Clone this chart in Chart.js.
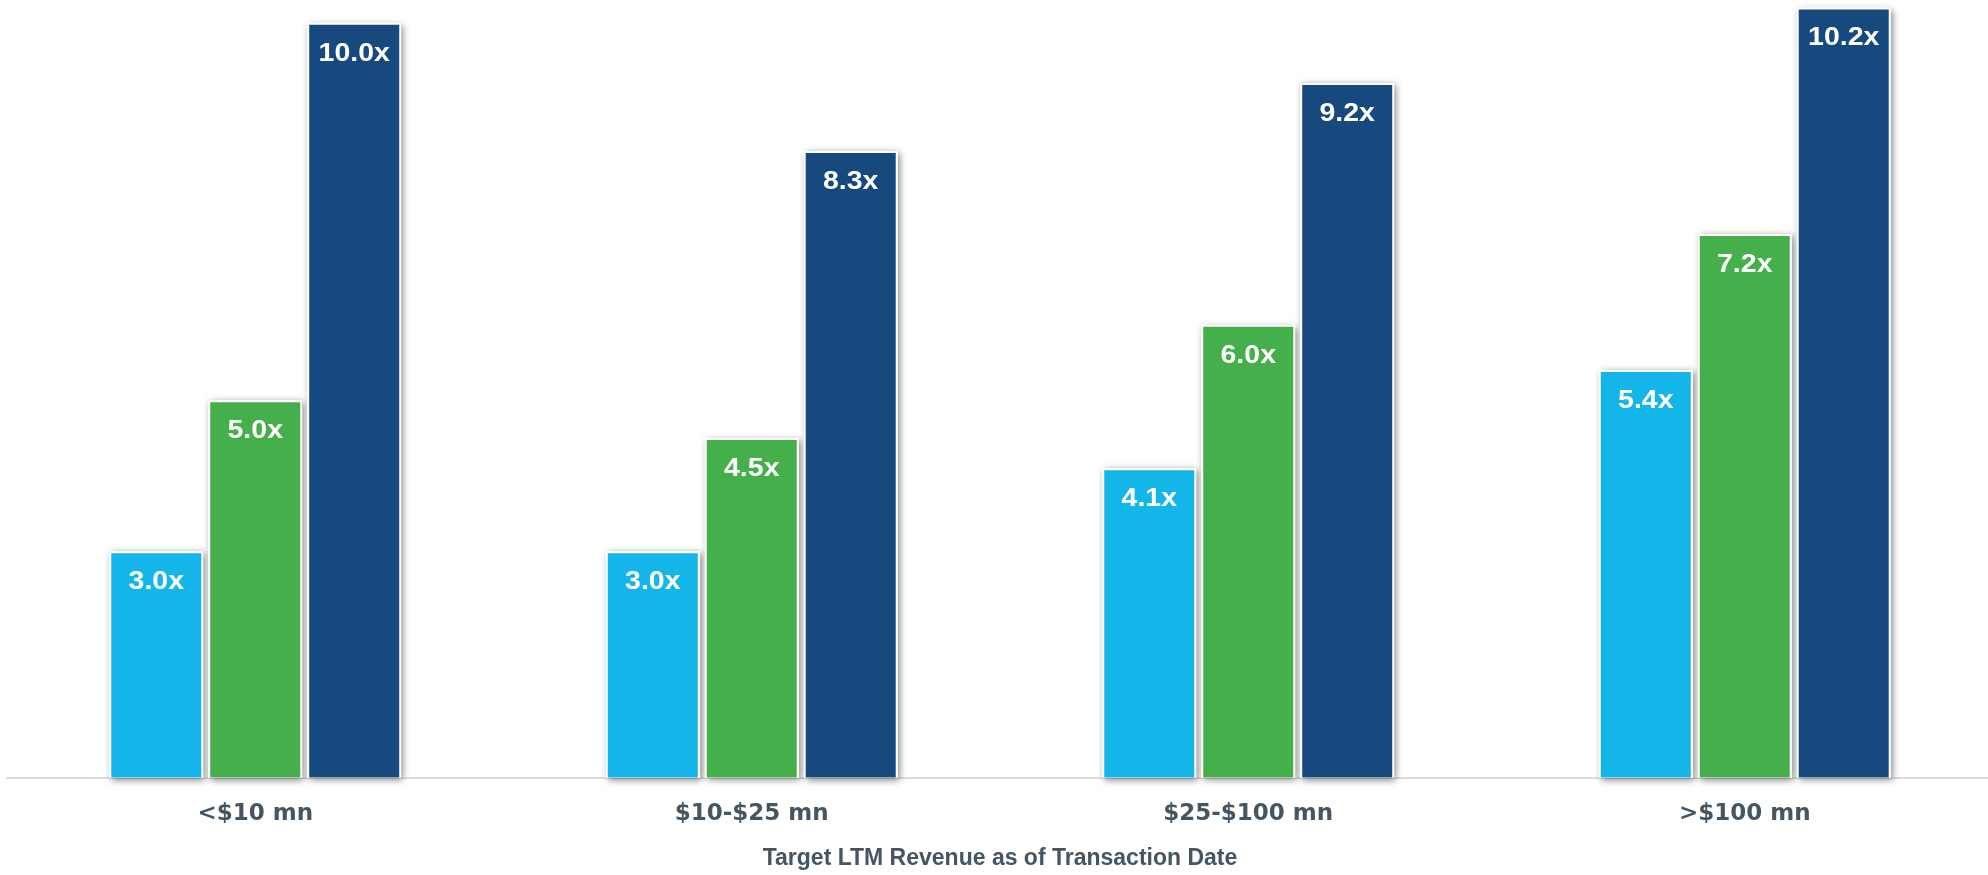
<!DOCTYPE html>
<html>
<head>
<meta charset="utf-8">
<script src="https://cdn.jsdelivr.net/npm/chart.js@4.4.1/dist/chart.umd.min.js"></script>
<style>
html, body { margin: 0; padding: 0; background: #fff; overflow: hidden; }
#wrap { width: 1988px; height: 875px; overflow: hidden; }
</style>
</head>
<body>
<div id="wrap"><canvas id="myChart" width="2000" height="875"></canvas></div>
<script>
// values
let categories = ['<$10 mn', '$10-$25 mn', '$25-$100 mn', '>$100 mn'];
let lowValues = [3.0, 3.0, 4.1, 5.4];
let midValues = [5.0, 4.5, 6.0, 7.2];
let highValues = [10.0, 8.3, 9.2, 10.2];
let axisTitle = 'Target LTM Revenue as of Transaction Date';

let colors = ['#14b5e8', '#45b04b', '#17497e'];
let textGray = '#465562';
let fontFamily = '"Liberation Sans", Arial, sans-serif';

// soft shadow behind each bar + white value labels on top
const barDecor = {
    id: 'barDecor',
    beforeDatasetsDraw(chart) {
        const ctx = chart.ctx;
        ctx.save();
        ctx.shadowColor = 'rgba(0, 0, 0, 0.5)';
        ctx.shadowBlur = 7;
        ctx.shadowOffsetX = 2;
        ctx.shadowOffsetY = 2;
        ctx.fillStyle = '#ffffff';
        chart.data.datasets.forEach((ds, i) => {
            chart.getDatasetMeta(i).data.forEach(bar => {
                const p = bar.getProps(['x', 'y', 'base', 'width'], true);
                ctx.fillRect(p.x - p.width / 2, p.y, p.width, p.base - p.y);
            });
        });
        ctx.restore();
    },
    afterDatasetsDraw(chart) {
        const ctx = chart.ctx;
        chart.data.datasets.forEach((ds, i) => {
            chart.getDatasetMeta(i).data.forEach((bar, j) => {
                const p = bar.getProps(['x', 'y'], true);
                ctx.save();
                // the reference text is a bit wider than plain Arial
                ctx.translate(p.x, p.y + 31);
                ctx.scale(1.14, 1);
                ctx.fillStyle = '#ffffff';
                ctx.font = 'bold 25px ' + fontFamily;
                ctx.textAlign = 'center';
                ctx.textBaseline = 'middle';
                ctx.fillText(ds.data[j].toFixed(1) + 'x', 0, 0);
                ctx.restore();
            });
        });
    }
};

let myChart = document.getElementById('myChart').getContext('2d');

let multiplesChart = new Chart(myChart, {
    type: 'bar',
    data: {
        labels: categories,
        datasets: [
            { label: 'Low', data: lowValues, backgroundColor: colors[0] },
            { label: 'Mid', data: midValues, backgroundColor: colors[1] },
            { label: 'High', data: highValues, backgroundColor: colors[2] }
        ].map(ds => Object.assign(ds, {
            borderColor: '#ffffff',
            borderWidth: 2,
            borderSkipped: 'start',
            categoryPercentage: 0.598,
            barPercentage: 0.95
        }))
    },
    options: {
        responsive: false,
        animation: false,
        devicePixelRatio: 1,
        layout: { padding: { left: 7, right: 7, top: 0, bottom: 0 } },
        plugins: {
            legend: { display: false },
            tooltip: { enabled: false }
        },
        scales: {
            x: {
                grid: { display: false, drawTicks: false },
                border: { display: true, color: '#d9dee2', width: 2 },
                ticks: {
                    color: textGray,
                    padding: 22,
                    font: { family: '"DejaVu Sans"', size: 23, weight: 'bold' }
                },
                title: {
                    display: true,
                    text: axisTitle,
                    color: textGray,
                    padding: { top: -5, bottom: 3 },
                    font: { family: fontFamily, size: 23, weight: 'bold' }
                }
            },
            y: {
                display: false,
                min: 0,
                max: 10.3
            }
        }
    },
    plugins: [barDecor]
});
</script>
</body>
</html>
